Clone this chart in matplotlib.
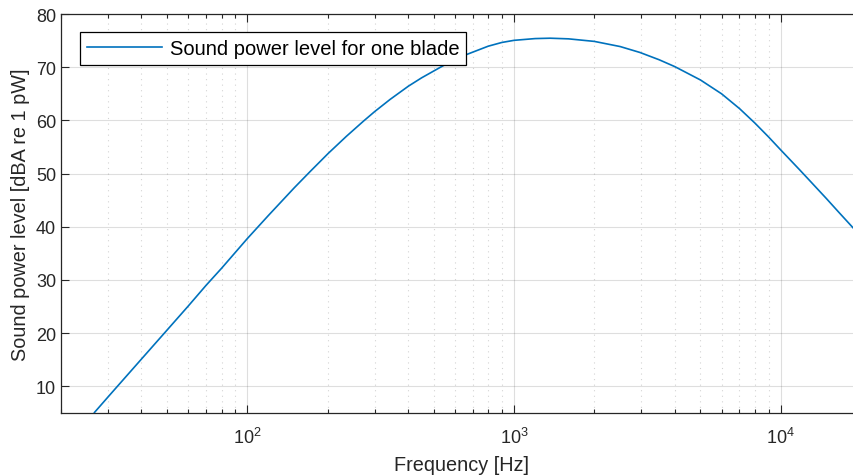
import matplotlib as mpl
mpl.use("Agg")
import matplotlib.pyplot as plt
from matplotlib.ticker import LogLocator, NullFormatter

# values (Hz, dBA)
freq = [26.7, 30, 40, 50, 60, 70, 80, 100, 120, 150, 172, 201, 235, 273, 300, 343,
        402, 450, 543, 665, 800, 900, 1000, 1200, 1365, 1600, 2000, 2500, 2965, 3500,
        4010, 5000, 6000, 7013, 8000, 9000, 10000, 11780, 13000, 14840, 16500, 18760]
level = [5.1, 8.0, 15.1, 20.6, 25.1, 29.0, 32.2, 37.8, 42.15, 47.35, 50.4, 53.8, 57.0,
         59.9, 61.65, 63.95, 66.45, 68.0, 70.3, 72.4, 73.95, 74.65, 75.05, 75.38, 75.45,
         75.33, 74.85, 73.88, 72.77, 71.4, 70.1, 67.6, 65.0, 62.2, 59.5, 56.9, 54.45,
         50.7, 48.4, 45.3, 42.75, 39.7]
yticks = [10, 20, 30, 40, 50, 60, 70, 80]

plt.rcParams['font.family'] = ['Liberation Sans', 'DejaVu Sans']
txtc = '#262626'

fig = plt.figure(figsize=(8.54, 4.77), dpi=100)
ax = fig.add_axes([61/854, 63/477, 800/854, 399/477])
ax.semilogx(freq, level, color='#0072BD', lw=1.2, label='Sound power level for one blade')
ax.set_xlim(20, 20000)
ax.set_ylim(5, 80)
ax.set_yticks(yticks)
ax.xaxis.set_major_locator(LogLocator(base=10, numticks=10))
ax.xaxis.set_minor_locator(LogLocator(base=10, subs=range(2, 10), numticks=20))
ax.xaxis.set_minor_formatter(NullFormatter())

ax.grid(True, which='major', color='#262626', alpha=0.15, lw=0.8)
ax.grid(True, which='minor', axis='x', color='#262626', alpha=0.2, lw=0.8, ls=(0, (1, 4)))
ax.set_axisbelow(True)

ax.tick_params(which='both', direction='in', top=True, right=True, colors=txtc, labelsize=13)
ax.tick_params(which='major', length=6, width=0.8)
ax.tick_params(which='minor', length=3, width=0.8)
ax.tick_params(axis='x', which='major', pad=10)
for s in ax.spines.values():
    s.set_color(txtc)
    s.set_linewidth(0.9)

ax.set_xlabel('Frequency [Hz]', fontsize=14.3, color=txtc, labelpad=6)
ax.set_ylabel('Sound power level [dBA re 1 pW]', fontsize=14.3, color=txtc, labelpad=4)

leg = ax.legend(loc='upper left', bbox_to_anchor=(0.024, 0.955), borderaxespad=0,
                fontsize=14.5, handlelength=3.7, handletextpad=0.4, fancybox=False,
                framealpha=1, edgecolor='black', borderpad=0.35)
leg.get_frame().set_linewidth(0.9)

plt.savefig('out.png', dpi=100)
